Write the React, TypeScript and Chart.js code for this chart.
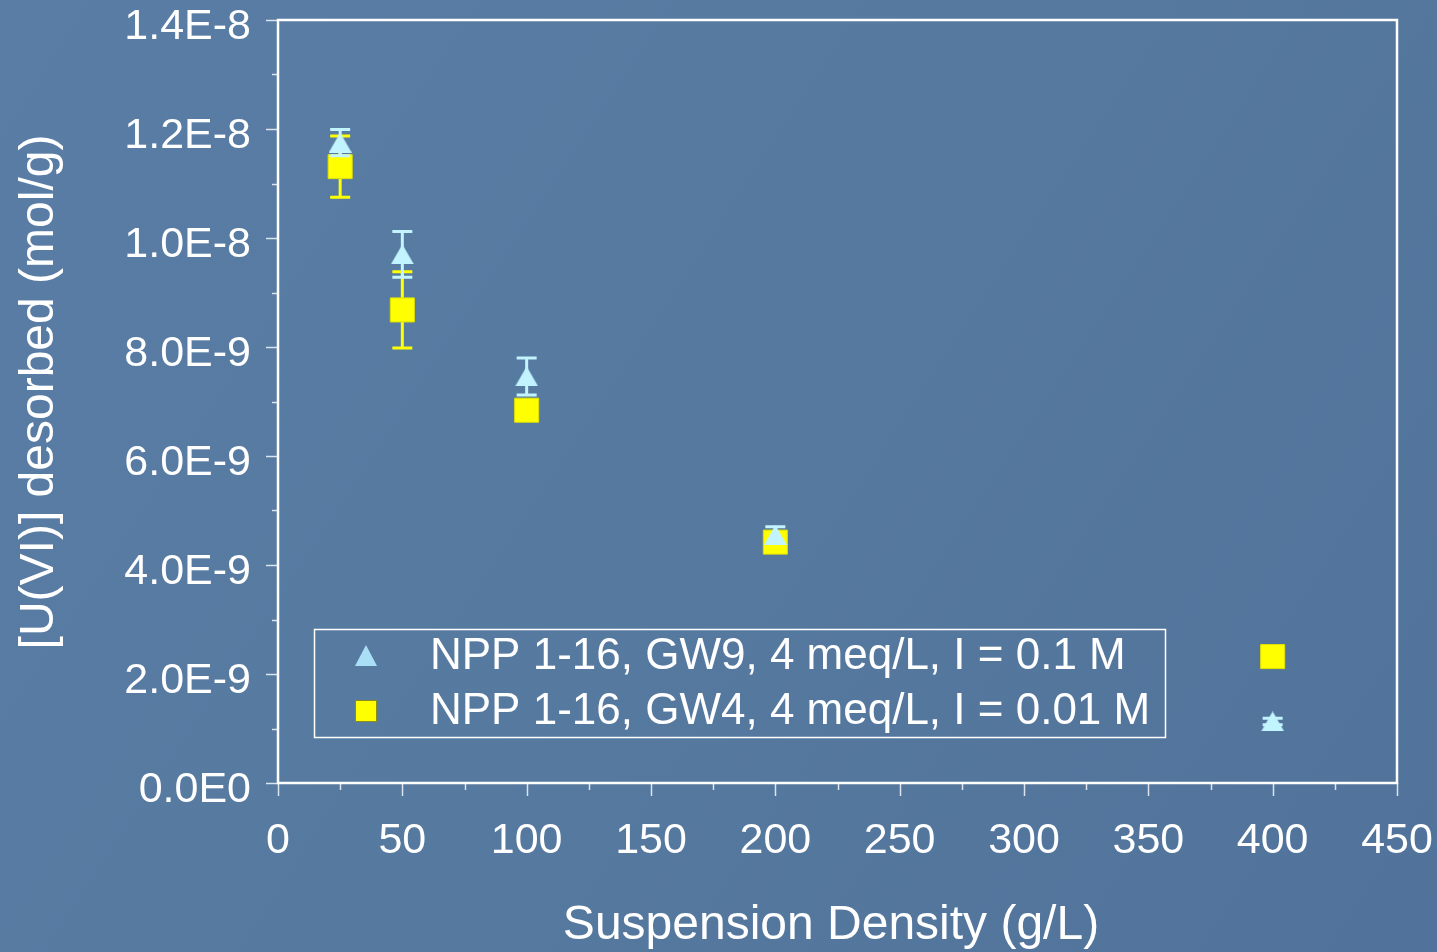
import React, { useEffect, useRef } from "react";
import { Chart, registerables } from "chart.js";

Chart.register(...registerables);

const xValues = [25, 50, 100, 200, 400];
const gw9Values = [1.175e-8, 9.7e-9, 7.46e-9, 4.55e-9, 1.13e-9];
const gw9Errors = [2.4e-10, 4.2e-10, 3.4e-10, 1.5e-10, 6e-11];
const gw4Values = [1.131e-8, 8.68e-9, 6.84e-9, 4.42e-9, 2.32e-9];
const gw4Errors = [5.6e-10, 7.0e-10, 1.5e-10, 1.0e-10, 1.0e-10];
const seriesLabels = [
  "NPP 1-16, GW9, 4 meq/L, I = 0.1 M",
  "NPP 1-16, GW4, 4 meq/L, I = 0.01 M",
];
const yMajorTicks = [0, 2e-9, 4e-9, 6e-9, 8e-9, 1e-8, 1.2e-8, 1.4e-8];
const yMinorTicks = [1e-9, 3e-9, 5e-9, 7e-9, 9e-9, 1.1e-8, 1.3e-8];
const xMajorTicks = [0, 50, 100, 150, 200, 250, 300, 350, 400, 450];
const xMinorTicks = [25, 75, 125, 175, 225, 275, 325, 375, 425];
const xTitle = "Suspension Density (g/L)";
const yTitle = "[U(VI)] desorbed (mol/g)";

const FONT = "'Liberation Sans', Arial, sans-serif";
const CYAN = "#c2f4ff";
const YELLOW = "#ffff00";

function makeTriangle(w: number, h: number, color: string) {
  const c = document.createElement("canvas");
  c.width = w;
  c.height = h;
  const g = c.getContext("2d")!;
  g.fillStyle = color;
  g.beginPath();
  g.moveTo(w / 2, 0);
  g.lineTo(w, h);
  g.lineTo(0, h);
  g.closePath();
  g.fill();
  return c;
}

function zeroPad(s: any) {
  s.paddingTop = 0;
  s.paddingBottom = 0;
  s.paddingLeft = 0;
  s.paddingRight = 0;
}

export default function App() {
  const ref = useRef<HTMLCanvasElement | null>(null);

  useEffect(() => {
    const canvas = ref.current!;
    const tri = makeTriangle(23, 20, CYAN);
    const errors = [gw9Errors, gw4Errors];
    const errColors = [CYAN, YELLOW];

    const decor = {
      id: "decor",
      beforeDraw(chart: any) {
        const ctx = chart.ctx;
        ctx.save();
        const g = ctx.createLinearGradient(0, 0, chart.width, chart.height);
        g.addColorStop(0, "#5a7da6");
        g.addColorStop(0.5, "#56799f");
        g.addColorStop(1, "#51739b");
        ctx.fillStyle = g;
        ctx.fillRect(0, 0, chart.width, chart.height);
        ctx.restore();
      },
      beforeDatasetDraw(chart: any, args: any) {
        const i = args.index;
        const ctx = chart.ctx;
        const xs = chart.scales.x;
        const ys = chart.scales.y;
        const vals = chart.data.datasets[i].data;
        ctx.save();
        ctx.strokeStyle = errColors[i];
        ctx.lineWidth = 3;
        vals.forEach((p: any, k: number) => {
          const e = errors[i][k];
          const px = xs.getPixelForValue(p.x);
          const top = ys.getPixelForValue(p.y + e);
          const bot = ys.getPixelForValue(p.y - e);
          ctx.beginPath();
          ctx.moveTo(px, top);
          ctx.lineTo(px, bot);
          ctx.moveTo(px - 10, top);
          ctx.lineTo(px + 10, top);
          ctx.moveTo(px - 10, bot);
          ctx.lineTo(px + 10, bot);
          ctx.stroke();
        });
        ctx.restore();
      },
      afterDraw(chart: any) {
        const ctx = chart.ctx;
        const a = chart.chartArea;
        const xs = chart.scales.x;
        const ys = chart.scales.y;
        ctx.save();
        // tick marks
        ctx.strokeStyle = "rgba(235,240,248,0.9)";
        ctx.lineWidth = 1.5;
        ctx.beginPath();
        yMajorTicks.forEach((v) => {
          const y = Math.round(ys.getPixelForValue(v)) + 0.5;
          ctx.moveTo(a.left - 12, y);
          ctx.lineTo(a.left, y);
        });
        yMinorTicks.forEach((v) => {
          const y = Math.round(ys.getPixelForValue(v)) + 0.5;
          ctx.moveTo(a.left - 6, y);
          ctx.lineTo(a.left, y);
        });
        xMajorTicks.forEach((v) => {
          const x = Math.round(xs.getPixelForValue(v)) + 0.5;
          ctx.moveTo(x, a.bottom);
          ctx.lineTo(x, a.bottom + 13);
        });
        xMinorTicks.forEach((v) => {
          const x = Math.round(xs.getPixelForValue(v)) + 0.5;
          ctx.moveTo(x, a.bottom);
          ctx.lineTo(x, a.bottom + 7);
        });
        ctx.stroke();
        // plot border
        ctx.strokeStyle = "#ffffff";
        ctx.lineWidth = 2.5;
        ctx.strokeRect(a.left, a.top, a.right - a.left, a.bottom - a.top);
        // axis titles
        ctx.fillStyle = "#ffffff";
        ctx.font = `48px ${FONT}`;
        ctx.textAlign = "center";
        ctx.textBaseline = "middle";
        ctx.fillText(xTitle, 831, 926);
        ctx.save();
        ctx.translate(40, 392);
        ctx.rotate(-Math.PI / 2);
        ctx.fillText(yTitle, 0, 0);
        ctx.restore();
        // legend
        ctx.strokeStyle = "#ffffff";
        ctx.lineWidth = 1.5;
        ctx.strokeRect(314.5, 629.5, 851, 108);
        const tl = makeTriangle(22, 21, "#a9e0f7");
        ctx.drawImage(tl, 366 - 11, 656 - 11);
        ctx.fillStyle = YELLOW;
        ctx.fillRect(355, 700, 22, 22);
        ctx.strokeStyle = "#8a8a20";
        ctx.lineWidth = 1;
        ctx.strokeRect(355.5, 700.5, 21, 21);
        ctx.fillStyle = "#ffffff";
        ctx.font = `44px ${FONT}`;
        ctx.textAlign = "left";
        ctx.textBaseline = "middle";
        ctx.fillText(seriesLabels[0], 430, 657);
        ctx.fillText(seriesLabels[1], 430, 712);
        ctx.restore();
      },
    };

    const chart = new Chart(canvas, {
      type: "scatter",
      data: {
        datasets: [
          {
            label: seriesLabels[0],
            data: xValues.map((x, i) => ({ x, y: gw9Values[i] })),
            pointStyle: tri as any,
            pointRadius: 12,
            backgroundColor: CYAN,
            borderColor: CYAN,
          },
          {
            label: seriesLabels[1],
            data: xValues.map((x, i) => ({ x, y: gw4Values[i] })),
            pointStyle: "rect",
            pointRadius: 17,
            backgroundColor: YELLOW,
            borderColor: "#e0e000",
            borderWidth: 1,
          },
        ],
      },
      plugins: [decor],
      options: {
        animation: false,
        responsive: false,
        layout: { padding: { top: 20, right: 40, left: 0, bottom: 0 } },
        plugins: {
          legend: { display: false },
          tooltip: { enabled: false },
        },
        scales: {
          x: {
            type: "linear",
            min: 0,
            max: 450,
            afterFit: (s: any) => {
              s.height = 169;
              zeroPad(s);
            },
            grid: { display: false, drawTicks: false },
            border: { display: false },
            ticks: {
              stepSize: 50,
              color: "#ffffff",
              padding: 37,
              font: { family: FONT, size: 43, lineHeight: 1 },
              maxRotation: 0,
              autoSkip: false,
            },
          },
          y: {
            type: "linear",
            min: 0,
            max: 1.4e-8,
            afterFit: (s: any) => {
              s.width = 278;
              zeroPad(s);
            },
            grid: { display: false, drawTicks: false },
            border: { display: false },
            ticks: {
              stepSize: 2e-9,
              color: "#ffffff",
              padding: 27,
              labelOffset: 7,
              font: { family: FONT, size: 43, lineHeight: 1 },
              callback: (v: any) => {
                const n = Number(v);
                if (Math.abs(n) < 1e-20) return "0.0E0";
                return n.toExponential(1).replace("e", "E").replace("+", "");
              },
            },
          },
        },
      },
    });
    return () => chart.destroy();
  }, []);

  return (
    <div style={{ position: "fixed", left: 0, top: 0, width: 1437, height: 952 }}>
      <canvas ref={ref} width={1437} height={952} style={{ display: "block" }} />
    </div>
  );
}
